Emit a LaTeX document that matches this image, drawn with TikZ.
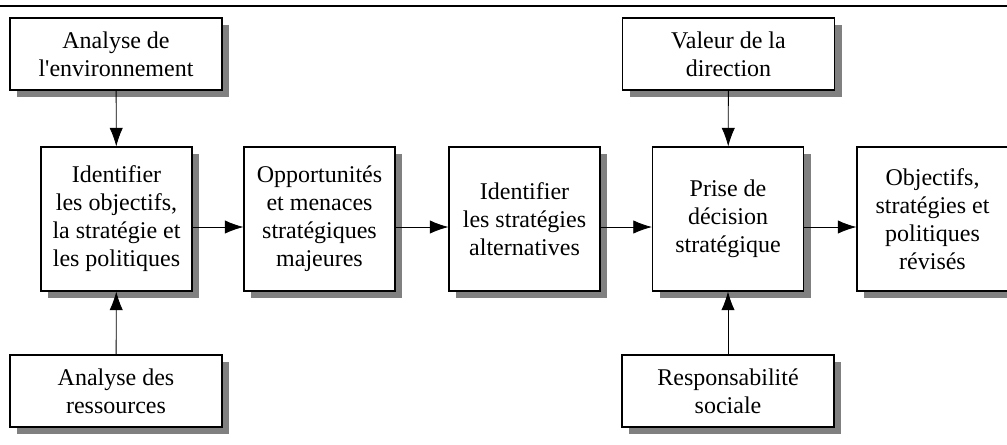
\documentclass[tikz,border=0pt]{standalone}
\usepackage{fontspec}
\setmainfont{Liberation Serif}
\usetikzlibrary{arrows.meta,shadows}

\begin{document}
\begin{tikzpicture}[x=0.75pt, y=-0.75pt,
    etape/.style ={rectangle, draw, line width=0.8pt, fill=white, align=center,
      font=\fontsize{18}{21}\selectfont, inner sep=0pt,
      drop shadow={shadow xshift=5.25pt, shadow yshift=-5.25pt, fill=gray, opacity=1}},
    facteur/.style ={etape, minimum width=159pt, minimum height=54pt},
    bloc/.style ={etape, minimum width=113.25pt, minimum height=108pt},
    fleche/.style ={-{Latex[length=14pt,width=10pt]}, line width=0.6pt}]
   \useasboundingbox (0,0) rectangle (1007,444);
   \draw[line width=1.1pt] (0,6) -- (1007,6);
   % facteurs externes
   \node[facteur] (env) at (116,54)  {Analyse de\\l\textquotesingle environnement};
   \node[facteur] (ress) at (116,391)  {Analyse des\\ressources};
   \node[facteur] (val) at (728.5,54)  {Valeur de la\\direction};
   \node[facteur] (resp) at (728,391)  {Responsabilité\\sociale};
   % chaine principale
   \node[bloc] (ident) at (116.5,219)  {Identifier\\les objectifs,\\la stratégie et\\les politiques};
   \node[bloc] (opp) at (319.5,219)  {Opportunités\\et menaces\\stratégiques\\majeures};
   \node[bloc] (alt) at (524.5,219)  {Identifier\\les stratégies\\alternatives};
   \node[bloc] (prise) at (728,219)  {Prise de\\décision\\stratégique};
   \node[bloc] (revis) at (932.5,219)  {Objectifs,\\stratégies et\\politiques\\révisés};
   \draw[fleche] (env) to  (ident);
   \draw[fleche] (ress) to  (ident);
   \draw[fleche] (val) to  (prise);
   \draw[fleche] (resp) to  (prise);
   \draw[fleche] ([yshift=-6pt]ident.east) to  ([yshift=-6pt]opp.west);
   \draw[fleche] ([yshift=-6pt]opp.east) to  ([yshift=-6pt]alt.west);
   \draw[fleche] ([yshift=-6pt]alt.east) to  ([yshift=-6pt]prise.west);
      \draw[fleche] ([yshift=-6pt]prise.east) to ([yshift=-6pt]revis.west);
 \end{tikzpicture}
\end{document}
